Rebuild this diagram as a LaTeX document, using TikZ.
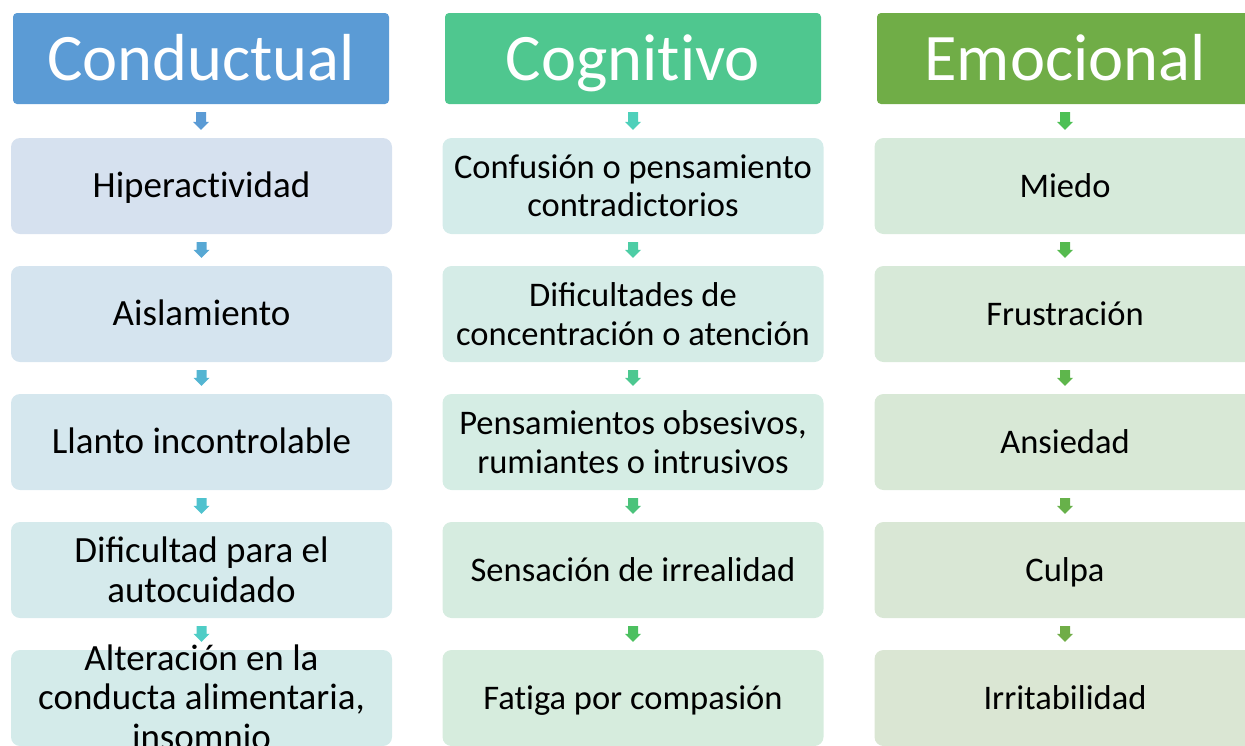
\documentclass[tikz,border=0pt]{standalone}
\usepackage{fontspec}
\setmainfont{Carlito}
\usetikzlibrary{calc}
\newcommand\brk{\kern0pt }
\definecolor{hA}{HTML}{5B9BD5}
\definecolor{hB}{HTML}{4FC78F}
\definecolor{hC}{HTML}{70AD47}
% box fills
\definecolor{a1}{HTML}{D6E1EF}\definecolor{a2}{HTML}{D5E4EF}\definecolor{a3}{HTML}{D5E7EE}\definecolor{a4}{HTML}{D5EAEC}\definecolor{a5}{HTML}{D4EBEA}
\definecolor{b1}{HTML}{D4ECEA}\definecolor{b2}{HTML}{D5ECE7}\definecolor{b3}{HTML}{D5EDE4}\definecolor{b4}{HTML}{D6ECE0}\definecolor{b5}{HTML}{D6ECDD}
\definecolor{c1}{HTML}{D6EADA}\definecolor{c2}{HTML}{D7E9D8}\definecolor{c3}{HTML}{D8E8D6}\definecolor{c4}{HTML}{D9E7D5}\definecolor{c5}{HTML}{DAE6D3}
% arrow fills
\definecolor{pa1}{HTML}{5B9BD5}\definecolor{pa2}{HTML}{57A8D4}\definecolor{pa3}{HTML}{53B5D2}\definecolor{pa4}{HTML}{4FC2CE}\definecolor{pa5}{HTML}{4FCDC6}
\definecolor{pb1}{HTML}{4ED0BA}\definecolor{pb2}{HTML}{4DCDA5}\definecolor{pb3}{HTML}{4CC890}\definecolor{pb4}{HTML}{4BC37B}\definecolor{pb5}{HTML}{4CC060}
\definecolor{pc1}{HTML}{4CC054}\definecolor{pc2}{HTML}{55BA4F}\definecolor{pc3}{HTML}{5EB64C}\definecolor{pc4}{HTML}{67B14A}\definecolor{pc5}{HTML}{70AD47}
\newcommand\blkarrow[3]{%
  \fill[#3] let \p1=($(#1.south)+(0,8)$), \p2=($(#2.north)+(0,-8)$) in
    (\x1-5pt,\y1) -- (\x1+5pt,\y1) -- (\x1+5pt,\y2+8pt) -- (\x1+8pt,\y2+8pt)
    -- (\x1,\y2) -- (\x1-8pt,\y2+8pt) -- (\x1-5pt,\y2+8pt) -- cycle;}
\begin{document}
\begin{tikzpicture}[x=1pt,y=-1pt,
  head/.style={fill=#1, rounded corners=4pt, minimum width=376pt, minimum height=91pt,
    inner sep=0pt, text=white, font=\fontsize{66.5}{70}\selectfont,
    text height=50pt, text depth=7pt},
  item/.style={fill=#1, rounded corners=9pt, minimum width=381pt, minimum height=96pt,
    inner sep=0pt, align=center, font=\fontsize{34.5}{38.5}\selectfont},
  big/.style={font=\fontsize{37}{40.5}\selectfont},
  one/.style={text height=29pt, text depth=6pt}]
\useasboundingbox (0,0) rectangle (1245,745);
\clip (0,0) rectangle (1245,745);
% column 1
\node[head=hA] (A0) at (201,58.5) {Conductual};
\node[item=a1,big,one] (A1) at (201.5,186) {Hiperact\brk ividad};
\node[item=a2,big,one] (A2) at (201.5,314) {Aislamiento};
\node[item=a3,big,one] (A3) at (201.5,442) {Llanto incontrolable};
\node[item=a4,big] (A4) at (201.5,570) {Dificultad para el\\autocuidado};
\node[item=a5] (A5) at (201.5,698) {};
% column 2
\node[head=hB] (B0) at (633,58.5) {Cognit\brk ivo};
\node[item=b1] (B1) at (633,186) {Confusión o pensamiento\\contradictorios};
\node[item=b2] (B2) at (633,314) {Dificultades de\\concentración o atención};
\node[item=b3] (B3) at (633,442) {Pensamientos obsesivos,\\rumiantes o intrusivos};
\node[item=b4,one] (B4) at (633,570) {Sensación de irrealidad};
\node[item=b5,one] (B5) at (633,698) {Fat\brk iga por compasión};
% column 3
\node[head=hC] (C0) at (1065,58.5) {Emocional};
\node[item=c1,one] (C1) at (1065,186) {Miedo};
\node[item=c2,one] (C2) at (1065,314) {Frustración};
\node[item=c3,one] (C3) at (1065,442) {Ansiedad};
\node[item=c4,one] (C4) at (1065,570) {Culpa};
\node[item=c5,one] (C5) at (1065,698) {Irritabilidad};
% overflowing text of the last conductual box
\node[align=center, inner sep=0pt, font=\fontsize{37}{39.5}\selectfont] (A5t) at ($(A5.center)+(0,-1)$) {Alteración en la\\conducta alimentaria,\\insomnio};
% arrows
\blkarrow{A0}{A1}{pa1}\blkarrow{A1}{A2}{pa2}\blkarrow{A2}{A3}{pa3}\blkarrow{A3}{A4}{pa4}\blkarrow{A4}{A5}{pa5}
\blkarrow{B0}{B1}{pb1}\blkarrow{B1}{B2}{pb2}\blkarrow{B2}{B3}{pb3}\blkarrow{B3}{B4}{pb4}\blkarrow{B4}{B5}{pb5}
\blkarrow{C0}{C1}{pc1}\blkarrow{C1}{C2}{pc2}\blkarrow{C2}{C3}{pc3}\blkarrow{C3}{C4}{pc4}\blkarrow{C4}{C5}{pc5}
\end{tikzpicture}
\end{document}
